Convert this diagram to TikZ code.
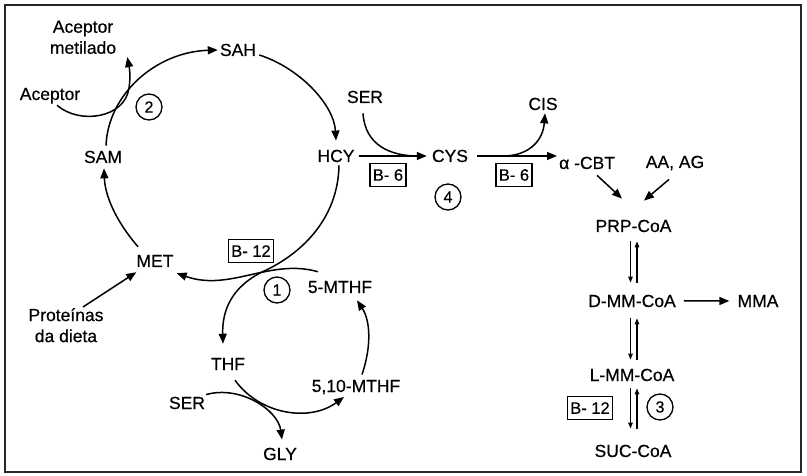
\documentclass[tikz,border=0pt]{standalone}
\usepackage{fontspec}
\setmainfont{Liberation Sans}[FakeBold=0.5]
\usetikzlibrary{arrows.meta,calc}
\begin{document}
\begin{tikzpicture}[x=1pt,y=-1pt,
  lbl/.style={font=\fontsize{17.5}{21}\selectfont, inner sep=0pt, anchor=base},
  mlbl/.style={font=\fontsize{17.5}{21}\selectfont, inner sep=0pt, anchor=north, align=center},
  vit/.style={draw, line width=1.3pt, font=\fontsize{16.5}{19}\selectfont, inner xsep=3pt, inner ysep=0pt, minimum height=23pt},
  num/.style={circle, draw, line width=1.3pt, minimum size=26pt, inner sep=0pt, font=\fontsize{16}{18}\selectfont},
  flow/.style={line width=1.5pt, -{Triangle[length=10pt,width=8pt]}},
  plainline/.style={line width=1.5pt},
  rev/.style={line width=1.2pt, -{Triangle[length=6pt,width=4.5pt]}}
]
\useasboundingbox (0,0) rectangle (807,476);
\draw[line width=1.6pt, black!85] (5,5) rectangle (801,472);

% labels
\node[mlbl] (acm) at (83,20.5) {Aceptor\\metilado};
\node[lbl] (acep) at (50,100) {Aceptor};
\node[lbl] (sam) at (103,163) {SAM};
\node[lbl] (sah) at (238,56) {SAH};
\node[lbl] (hcy) at (336,162) {HCY};
\node[lbl] (sert) at (365,103) {SER};
\node[lbl] (cys) at (450,162) {CYS};
\node[lbl] (cis) at (543,110) {CIS};
\node[lbl, anchor=base west] (cbt) at (559,169) {α -CBT};
\node[lbl] (aaag) at (675,168) {AA, AG};
\node[lbl] (prp) at (633.5,232) {PRP-CoA};
\node[lbl] (dmm) at (632,307) {D-MM-CoA};
\node[lbl] (mma) at (758,307) {MMA};
\node[lbl] (lmm) at (632,381) {L-MM-CoA};
\node[lbl] (suc) at (633,457) {SUC-CoA};
\node[lbl] (met) at (155,267) {MET};
\node[mlbl] (prot) at (66,308) {Proteínas\\da dieta};
\node[lbl] (mthf5) at (340,293) {5-MTHF};
\node[lbl] (thf) at (228,370) {THF};
\node[lbl] (mthf510) at (356,392) {5,10-MTHF};
\node[lbl] (serb) at (187,409) {SER};
\node[lbl] (gly) at (280,460) {GLY};

% cofactors and numbers
\node[vit] (b6a) at (388,175) {B- 6};
\node[vit] (b6b) at (514,175) {B- 6};
\node[vit] (b12a) at (251,251) {B- 12};
\node[vit] (b12b) at (590,408) {B- 12};
\node[num] (n2) at (149,107) {2};
\node[num] (n4) at (448,197) {4};
\node[num] (n1) at (277,290) {1};
\node[num] (n3) at (660,407) {3};

% methionine cycle
\draw[flow] ($(sam.north)+(3,-5)$) .. controls (108,95) and (155,52) .. ($(sah.west)+(-2,0)$);
\draw[flow] ($(sah.east)+(3,5)$) .. controls (300,68) and (334,105) .. ($(hcy.north)+(0,-9)$);
\draw[flow] ($(hcy.south)+(3,3)$) .. controls (338,220) and (300,255) .. (262,272)
  .. controls (232,287) and (222,310) .. ($(thf.north)+(-5,-14)$);
\draw[flow] ($(mthf5.north)+(-22,-9)$) .. controls (270,258) and (230,292) .. ($(met.south east)+(3,6)$);
\draw[flow] ($(met.north)+(-17,-8)$) .. controls (115,220) and (105,195) .. ($(sam.south)+(1,5)$);
\draw[flow] ($(acep.south)+(7,1.5)$) .. controls (80,125) and (125,118) .. (129,88)
  .. controls (131,75) and (129,66) .. ($(acm.south east)+(11,3)$);
\draw[flow] ($(prot.north)+(17,-1)$) -- ($(met.south west)+(0,5)$);

% transsulfuration
\draw[flow, shorten <=4pt, shorten >=5pt] (hcy.east) -- (cys.west);
\draw[plainline] ($(sert.south)+(-2,10)$) .. controls (365,145) and (390,156) .. ($(cys.west)+(-14,0)$);
\draw[flow, shorten <=9pt, shorten >=2pt] (cys.east) -- (cys.east -| cbt.west);
\draw[flow] ($(cys.east)+(37,0)$) .. controls (530,155) and (543,140) .. ($(cis.south)+(2,3)$);
\draw[flow] ($(cbt.south)+(10,6)$) -- ($(prp.north)+(-11.5,-21)$);
\draw[flow] ($(aaag.south)+(-6,9)$) -- ($(prp.north)+(10.5,-19)$);

% propionate pathway
\draw[rev] ($(prp.south)+(-3,9)$) -- ($(dmm.north)+(-1.5,-12)$);
\draw[rev] ($(dmm.north)+(5,-12)$) -- ($(prp.south)+(3.5,9)$);
\draw[rev] ($(dmm.south)+(-1.5,11)$) -- ($(lmm.north)+(-1.5,-9)$);
\draw[rev] ($(lmm.north)+(5,-9)$) -- ($(dmm.south)+(5,11)$);
\draw[rev] ($(lmm.south)+(-1.5,7)$) -- ($(suc.north)+(-2.5,-16)$);
\draw[rev] ($(suc.north)+(4,-16)$) -- ($(lmm.south)+(5,7)$);
\draw[flow, shorten <=8pt, shorten >=8pt] (dmm.east) -- (mma.west);

% folate cycle
\draw[flow] ($(thf.south)+(7,10)$) .. controls (260,415) and (310,422) .. ($(mthf510.south)+(-12,2.5)$);
\draw[flow] ($(serb.north east)+(1,-2)$) .. controls (240,385) and (278,410) .. ($(gly.north)+(2,-8)$);
\draw[flow] ($(mthf510.north)+(6,-5)$) .. controls (372,345) and (370,320) .. ($(mthf5.south)+(17,7)$);
\end{tikzpicture}
\end{document}
